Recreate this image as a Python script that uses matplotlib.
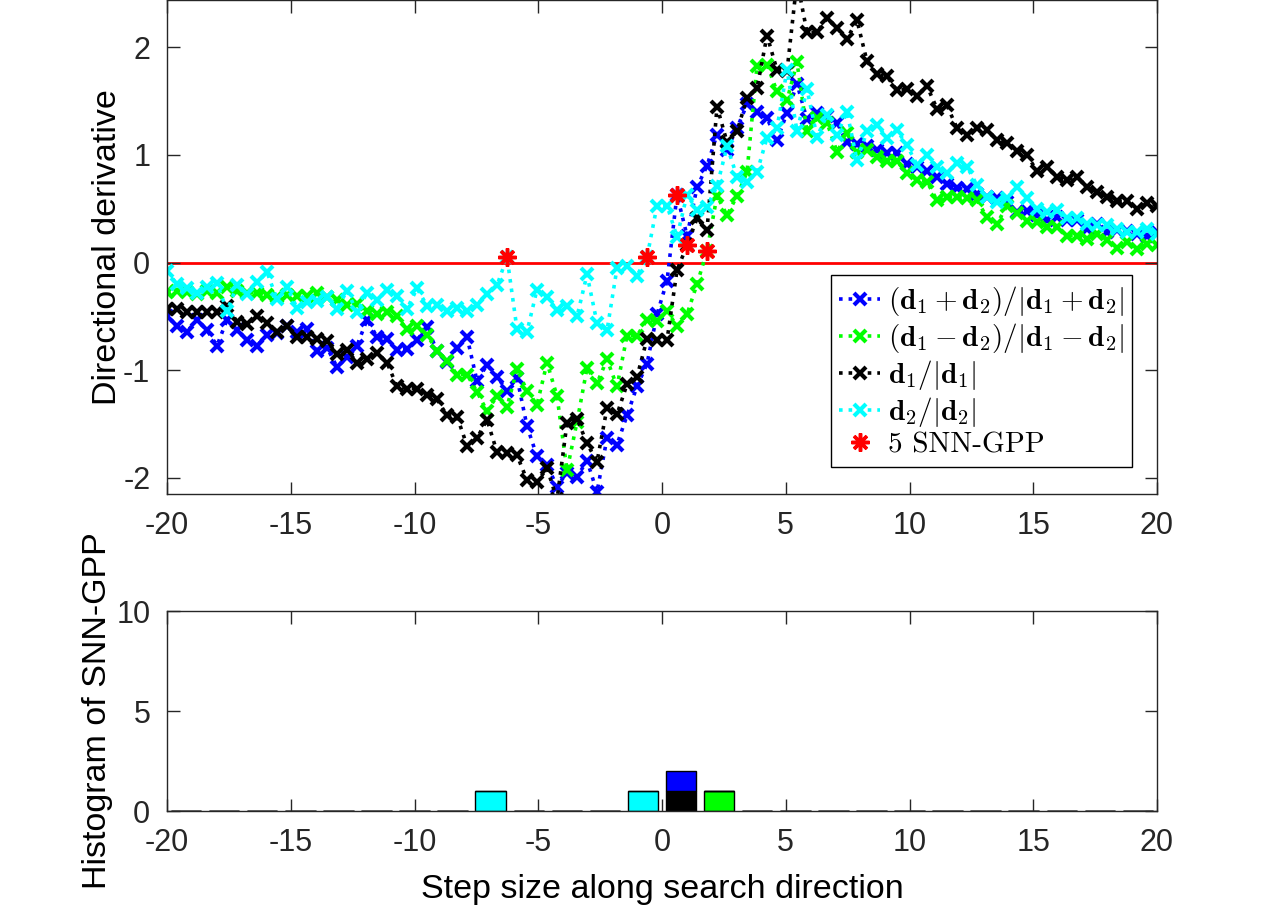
import numpy as np
import matplotlib
matplotlib.use('Agg')
import matplotlib.pyplot as plt

plt.rcParams['font.family'] = ['Liberation Sans', 'DejaVu Sans']
plt.rcParams['mathtext.fontset'] = 'cm'
plt.rcParams['axes.unicode_minus'] = False

# step sizes (100 samples from -20 to 20)
step = np.linspace(-20, 20, 100)

# directional derivative along each search direction
dir_sum = [-0.50, -0.59, -0.64, -0.53, -0.63, -0.77, -0.53, -0.63, -0.72, -0.77,
           -0.67, -0.65, -0.59, -0.64, -0.62, -0.82, -0.79, -0.97, -0.88, -0.77,
           -0.53, -0.69, -0.71, -0.81, -0.80, -0.72, -0.60, -0.82, -0.92, -0.79,
           -0.69, -1.10, -0.95, -1.06, -1.19, -1.07, -1.52, -1.80, -1.88, -2.08,
           -1.95, -1.99, -1.84, -2.13, -1.63, -1.69, -1.42, -1.15, -0.94, -0.48,
           -0.17, 0.63, 0.25, 0.70, 0.90, 1.19, 1.05, 1.25, 1.47, 1.40,
           1.34, 1.14, 1.39, 1.66, 1.33, 1.39, 1.36, 1.30, 1.12, 1.10,
           1.08, 1.05, 1.02, 1.02, 0.92, 0.89, 0.85, 0.80, 0.73, 0.69,
           0.68, 0.64, 0.61, 0.60, 0.56, 0.47, 0.48, 0.44, 0.40, 0.42,
           0.40, 0.40, 0.31, 0.36, 0.28, 0.30, 0.29, 0.27, 0.25, 0.28]

dir_diff = [-0.27, -0.26, -0.27, -0.29, -0.26, -0.28, -0.23, -0.26, -0.28, -0.28,
            -0.30, -0.32, -0.30, -0.31, -0.31, -0.28, -0.32, -0.35, -0.39, -0.38,
            -0.45, -0.48, -0.46, -0.50, -0.62, -0.59, -0.67, -0.82, -0.91, -1.04,
            -1.04, -1.20, -1.38, -1.24, -1.34, -0.99, -1.19, -1.32, -0.93, -1.24,
            -1.93, -1.48, -0.98, -1.12, -0.90, -1.15, -0.68, -0.68, -0.53, -0.54,
            -0.45, -0.59, -0.48, -0.20, 0.11, 0.62, 0.44, 0.62, 0.84, 1.83,
            1.84, 1.59, 1.51, 1.86, 1.22, 1.34, 1.30, 1.03, 1.20, 1.03,
            1.05, 0.98, 0.94, 0.94, 0.83, 0.77, 0.75, 0.58, 0.61, 0.61,
            0.60, 0.58, 0.42, 0.36, 0.53, 0.46, 0.39, 0.38, 0.33, 0.33,
            0.25, 0.25, 0.22, 0.27, 0.21, 0.14, 0.19, 0.13, 0.17, 0.16]

dir_d1 = [-0.43, -0.43, -0.46, -0.46, -0.46, -0.46, -0.40, -0.55, -0.57, -0.50,
          -0.56, -0.64, -0.59, -0.69, -0.69, -0.71, -0.73, -0.85, -0.81, -0.93,
          -0.90, -0.84, -0.93, -1.15, -1.17, -1.17, -1.23, -1.27, -1.42, -1.43,
          -1.70, -1.63, -1.46, -1.76, -1.77, -1.79, -2.02, -2.04, -1.91, -2.20,
          -1.49, -1.45, -1.68, -1.85, -1.35, -1.41, -1.13, -1.06, -0.71, -0.72,
          -0.72, -0.07, 0.16, 0.41, 0.30, 1.45, 1.12, 1.22, 1.53, 1.62,
          2.11, 1.79, 1.78, 2.62, 2.14, 2.14, 2.27, 2.18, 2.08, 2.25,
          1.87, 1.75, 1.73, 1.60, 1.61, 1.55, 1.64, 1.43, 1.46, 1.25,
          1.19, 1.25, 1.23, 1.14, 1.11, 1.04, 1.00, 0.85, 0.89, 0.80,
          0.77, 0.80, 0.70, 0.66, 0.61, 0.57, 0.57, 0.50, 0.55, 0.53]

dir_d2 = [-0.08, -0.20, -0.24, -0.28, -0.23, -0.19, -0.45, -0.21, -0.29, -0.18,
          -0.09, -0.34, -0.23, -0.42, -0.37, -0.36, -0.32, -0.43, -0.26, -0.46,
          -0.28, -0.35, -0.25, -0.31, -0.43, -0.24, -0.40, -0.39, -0.45, -0.42,
          -0.45, -0.39, -0.29, -0.21, 0.05, -0.62, -0.64, -0.25, -0.32, -0.44,
          -0.40, -0.50, -0.11, -0.56, -0.63, -0.05, -0.03, -0.12, 0.05, 0.53,
          0.53, 0.24, 0.63, 0.49, 0.52, 0.71, 1.08, 0.80, 0.75, 0.84,
          1.16, 1.25, 1.79, 1.22, 1.61, 1.17, 1.37, 1.19, 1.40, 0.95,
          1.22, 1.28, 1.16, 1.23, 1.09, 0.91, 1.00, 0.89, 0.83, 0.93,
          0.89, 0.72, 0.61, 0.56, 0.60, 0.70, 0.60, 0.50, 0.47, 0.49,
          0.41, 0.41, 0.36, 0.35, 0.35, 0.31, 0.28, 0.28, 0.31, 0.27]

# sample indices where the SNN-GPP was found for each direction
gpp_sum = [51]
gpp_diff = [54]
gpp_d1 = [52]
gpp_d2 = [34, 48]

labels = [r'$(\mathbf{d}_1+\mathbf{d}_2)/|\mathbf{d}_1+\mathbf{d}_2|$',
          r'$(\mathbf{d}_1-\mathbf{d}_2)/|\mathbf{d}_1-\mathbf{d}_2|$',
          r'$\mathbf{d}_1/|\mathbf{d}_1|$',
          r'$\mathbf{d}_2/|\mathbf{d}_2|$']
colors = ['#0000ff', '#00ff00', '#000000', '#00ffff']
series = [dir_sum, dir_diff, dir_d1, dir_d2]
gpps = [gpp_sum, gpp_diff, gpp_d1, gpp_d2]

TICK_FS = 22
LABEL_FS = 24.5
AX_COLOR = '#262626'

fig = plt.figure(figsize=(12.8, 9.07), dpi=100)
ax1 = fig.add_axes([0.1305, 0.4553, 0.7734, 0.5447])
ax2 = fig.add_axes([0.1305, 0.1058, 0.7734, 0.2205])

# top panel: directional derivatives
handles = []
for vals, col, lab in zip(series, colors, labels):
    h, = ax1.plot(step, vals, linestyle=':', color=col, linewidth=2.6,
                  marker='x', markersize=8, markeredgewidth=3, label=lab)
    handles.append(h)

ax1.axhline(0, color='#ff0000', linewidth=2, zorder=1)

gx = np.concatenate([step[g] for g in gpps])
gy = np.concatenate([np.array(v)[g] for v, g in zip(series, gpps)])
hs, = ax1.plot(gx, gy, linestyle='none', marker=(8, 2, 0), markersize=13,
               markeredgewidth=2.5, color='#ff0000', label=f'{len(gx)} SNN-GPP', zorder=5)
handles.append(hs)

ax1.set_xlim(-20, 20)
ax1.set_ylim(-2.15, 2.44)
ax1.set_xticks(np.arange(-20, 21, 5))
ax1.set_yticks([-2, -1, 0, 1, 2])
ax1.set_ylabel('Directional derivative', fontsize=LABEL_FS, labelpad=0)

leg = ax1.legend(handles=handles, loc='lower right', bbox_to_anchor=(0.975, 0.055),
                 fontsize=21, handlelength=1.4, handletextpad=0.25,
                 labelspacing=0.1, borderpad=0.3, fancybox=False, framealpha=1,
                 edgecolor='black', borderaxespad=0)
leg.get_frame().set_linewidth(1.0)
leg.get_texts()[4].set_fontfamily('cmr10')

# bottom panel: stacked histogram of SNN-GPP locations
edges = np.linspace(-20, 20, 27)
centers = 0.5 * (edges[:-1] + edges[1:])
width = 0.8 * (edges[1] - edges[0])
bottom = np.zeros(len(centers))
for i in [2, 1, 3, 0]:
    counts, _ = np.histogram(step[gpps[i]], bins=edges)
    ax2.bar(centers, counts, width=width, bottom=bottom, color=colors[i],
            edgecolor='black', linewidth=1)
    bottom += counts

ax2.set_xlim(-20, 20)
ax2.set_ylim(0, 10)
ax2.set_xticks(np.arange(-20, 21, 5))
ax2.set_yticks([0, 5, 10])
ax2.set_xlabel('Step size along search direction', fontsize=LABEL_FS, labelpad=12)
ax2.set_ylabel('Histogram of SNN-GPP', fontsize=LABEL_FS, labelpad=2)

for ax in (ax1, ax2):
    ax.tick_params(direction='in', length=9, width=1, labelsize=TICK_FS,
                   top=True, right=True, colors=AX_COLOR, labelcolor=AX_COLOR)
    ax.tick_params(axis='x', pad=12)
    ax.tick_params(axis='y', pad=12)
    for sp in ax.spines.values():
        sp.set_linewidth(1)
        sp.set_color(AX_COLOR)

fig.savefig('out.png', dpi=100)
